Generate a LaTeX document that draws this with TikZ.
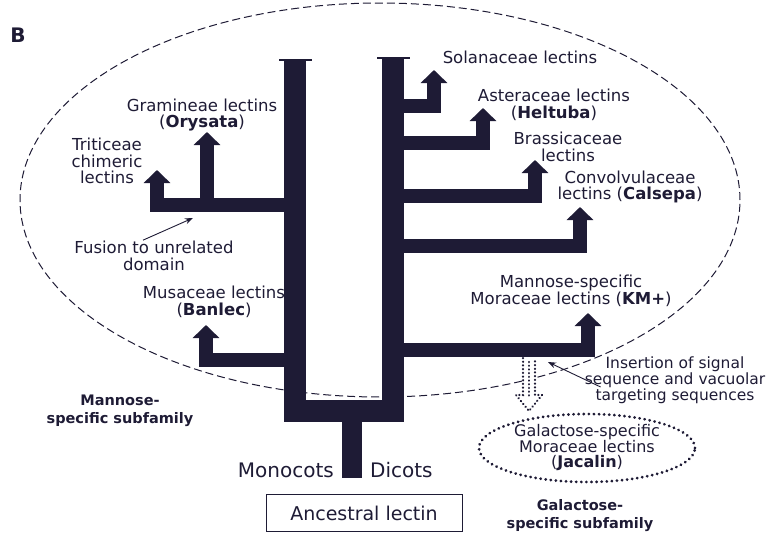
\documentclass[tikz,border=0pt]{standalone}
\usepackage{fontspec}
\setmainfont{DejaVu Sans}
\usetikzlibrary{arrows.meta,shapes.geometric}
\definecolor{ink}{HTML}{1E1B35}

\begin{document}
\begin{tikzpicture}[x=1pt,y=-1pt,
  every node/.style={text=ink, font=\fontsize{16.5}{16.5}\selectfont, align=center, inner sep=0pt},
  stalk/.style={draw=ink, line width=22pt, line join=miter},
  twig/.style={draw=ink, line width=14pt, line join=miter, -{Triangle[width=26pt,length=13pt]}},
  pointer/.style={draw=ink, line width=0.9pt, -{Stealth[length=8pt,width=6pt]}},
  beads/.style={draw=ink, line width=3pt, line cap=round, dash pattern=on 0.1pt off 5pt},
  subfam/.style={font=\fontsize{14.5}{18}\selectfont\bfseries}]
  \useasboundingbox (0,0) rectangle (772,538);

  % Dashed boundary of the mannose-specific subfamily
  \draw[ink, line width=1pt, dash pattern=on 8pt off 4pt] (380,200) ellipse [x radius=360pt, y radius=197pt];

  \node[font=\fontsize{20}{20}\selectfont\bfseries] (panel) at (18,35) {B};

  % Trunks
  \coordinate (mtop) at (295,60);
  \coordinate (dtop) at (393,58);
  \coordinate (root) at (352,478);
  \draw[stalk] (mtop) -- (295,411) -- (393,411) -- (dtop);
  \draw[stalk, line width=20pt] (352,411) -- (root);
  \draw[ink, line width=1.5pt] (279,60) -- (312,60);
  \draw[ink, line width=1.5pt] (377,58) -- (410,58);

  % Monocot branches
  \draw[twig] (295,205) -- (157,205) -- (157,170);
  \draw[twig] (207,205) -- (207,132);
  \draw[twig] (295,360) -- (206,360) -- (206,325);

  % Dicot branches
  \draw[twig] (393,106) -- (434,106) -- (434,70);
  \draw[twig] (393,143) -- (483,143) -- (483,108);
  \draw[twig] (393,196) -- (535,196) -- (535,160);
  \draw[twig] (393,246) -- (580,246) -- (580,207);
  \draw[twig] (393,350) -- (588,350) -- (588,313);

  % Hollow dotted arrow to the galactose-specific lectins
  \fill[white] (523,358) -- (523,395) -- (516,395) -- (529,411) -- (542,395) -- (535,395) -- (535,358);
  \draw[beads, line width=2.4pt, dash pattern=on 0.1pt off 3.6pt]
    (523,358) -- (523,395) -- (516,395) -- (529,411) -- (542,395) -- (535,395) -- (535,358);
  \draw[beads, line width=2.4pt, dash pattern=on 0.1pt off 3.6pt] (529,362) -- (529,398);

  % Labels
  \node (gramineae) at (202,115) {Gramineae lectins\\(\textbf{Orysata})};
  \node (triticeae) at (107,161) {Triticeae\\chimeric\\lectins};
  \node (fusion) at (154,256) {Fusion to unrelated\\domain};
  \node (musaceae) at (214,302) {Musaceae lectins\\(\textbf{Banlec})};
  \node (solanaceae) at (520,57) {Solanaceae lectins};
  \node (asteraceae) at (554,105) {Asteraceae lectins\\(\textbf{Heltuba})};
  \node (brassicaceae) at (568,147) {Brassicaceae\\lectins};
  \node (convolvulaceae) at (630,187) {Convolvulaceae\\lectins (\textbf{Calsepa})};
  \node[font=\fontsize{16.5}{14}\selectfont] (moraceae) at (571,291) {Mannose-specific\\Moraceae lectins (\textbf{KM+})};
  \node[font=\fontsize{15.5}{13}\selectfont] (insertion) at (675,380) {Insertion of signal\\sequence and vacuolar\\targeting sequences};
  \node[ellipse, beads, minimum width=216pt, minimum height=68pt, font=\fontsize{16}{15.5}\selectfont] (jacalin) at (587,448)
    {Galactose-specific\\Moraceae lectins\\(\textbf{Jacalin})};
  \node[subfam] (mannosefam) at (120,411) {Mannose-\\specific subfamily};
  \node[subfam] (galactosefam) at (580,516) {Galactose-\\specific subfamily};
  \node[font=\fontsize{20}{20}\selectfont, anchor=east] (monocots) at (334,470) {Monocots};
  \node[font=\fontsize{20}{20}\selectfont, anchor=west] (dicots) at (370,470) {Dicots};
  \node[draw=ink, line width=0.8pt, minimum width=196pt, minimum height=37pt,
        font=\fontsize{19}{19}\selectfont] (ancestral) at (364,513) {Ancestral lectin};

  % Pointers
  \coordinate (fusepoint) at (193,218);
  \coordinate (signalpoint) at (548,362);
  \draw[pointer] ([xshift=-11pt,yshift=1pt]fusion.north) -- (fusepoint);
  \draw[pointer] ([xshift=16pt,yshift=-7pt]insertion.west) -- (signalpoint);
\end{tikzpicture}
\end{document}
